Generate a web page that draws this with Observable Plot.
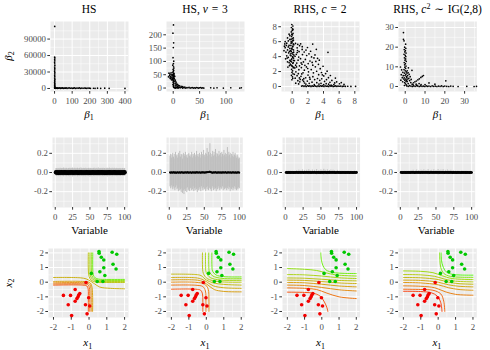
<!DOCTYPE html>
<html><head><meta charset="utf-8">
<script src="https://cdn.jsdelivr.net/npm/d3@7"></script>
<script src="https://cdn.jsdelivr.net/npm/@observablehq/plot@0.6"></script>
<style>
body{margin:0;background:#fff;}
#root{position:relative;width:490px;height:350px;overflow:hidden;background:#fff;font-family:"Liberation Serif","DejaVu Serif","Noto Serif",serif;}
#root svg{position:absolute;}
#root svg text{font-family:"Liberation Serif","DejaVu Serif","Noto Serif",serif;}
</style></head><body><div id="root"></div>
<script>
// ---------- Row 1: posterior draws (beta1, beta2) ----------
const hsPoints = [[1,113000],[0.5,57000],[1.5,55500],[0.8,53000],[1.2,50500],[0.3,48000],[1.0,45000],[1.8,42000],[0.6,39000],[1.4,36500],
[0.9,34000],[0.4,31500],[1.6,29000],[1.1,26500],[0.7,24000],[1.3,21500],[0.5,19000],[1.9,17000],[0.8,15000],[1.2,13000],
[0.4,11000],[1.0,9500],[1.5,8000],[0.6,6500],[1.1,5200],[0.9,4000],[1.4,3000],[0.7,2200],[1.0,1500],[1.3,900],[0.8,400],
[2,900],[4,300],[7,1200],[10,500],[13,800],[16,200],[19,1000],[22,400],[26,700],[30,1300],[34,300],[38,900],[42,600],[46,1100],
[51,200],[56,800],[61,500],[66,1000],[71,300],[77,700],[83,1200],[89,400],[95,900],[101,200],[107,600],[113,1000],[120,300],
[127,800],[134,500],[141,1100],[148,200],[155,700],[162,400],[169,900],[176,600],[183,300],[190,800],[197,500],[204,200],
[221,400],[230,300],[244,600],[262,200],[285,500],[310,300],[400,100]];

const nuPoints = [[0.5,237],[-0.5,206],[0.8,170],[0.2,152],[-0.3,114],[1.0,101],[0.4,92],[-0.8,86],[0.6,80],[1.2,75],
[-0.2,70],[0.9,66],[0.0,62],[-0.6,58],[1.4,55],[0.3,52],[-1.0,49],[0.7,46],[1.1,43],[-0.4,40],[0.5,37],[1.5,34],[-0.7,31],
[0.2,28],[0.9,25],[-0.1,22],[1.3,19],[0.6,16],[-0.5,13],[1.0,10],[0.4,7],[0.8,4],
[-8,56],[-6,52],[-4,57],[-3,50],[-7,47],[-5,44],[-2,46],[-9,42],[-4,40],[-6,38],[-2,36],[1,54],[2,49],[3,44],[-1,33],[-3,31],
[1,40],[2,35],[4,30],[3,26],[5,23],[6,19],[4,16],[8,14],[6,12],[10,10],[12,8],[8,7],[15,6],[18,5],[10,4],[22,4],[5,9],[-5,35],[-1,50],[0,45],
[1,3],[2,1],[3,2],[4,0],[5,4],[6,1],[7,2],[8,3],[9,0],[10,1],[12,2],[14,1],[16,3],[18,0],[20,2],[22,1],[24,0],[26,2],[28,1],[30,3],
[32,0],[34,1],[36,2],[38,0],[40,1],[42,0],[44,2],[46,1],[48,0],[50,1],[52,2],[54,0],[56,1],[58,0],[71,1],[77,0],[83,1],[95,0],[109,1],[126,0],[129,1]];

const rhsPoints = [[-0.05,8.3],[0.08,8.1],[-0.1,7.9],[0.05,7.7],[0.0,7.5],[-0.12,7.3],[0.1,7.1],[0.02,6.9],[-0.08,6.7],[0.14,6.5],
[-0.15,6.3],[0.06,6.1],[-0.03,5.9],[0.12,5.7],[-0.17,5.5],[0.04,5.3],[-0.07,5.1],[0.16,4.9],[-0.12,4.7],[0.02,4.5],[0.1,4.3],
[-0.15,4.1],[0.05,3.9],[-0.05,3.7],[0.15,3.5],[-0.1,3.3],[0.08,3.1],[-0.18,2.9],[0.0,2.7],[0.12,2.5],[-0.08,2.3],[0.05,2.1],
[-0.03,1.9],[0.1,1.7],[-0.1,1.5],[0.03,1.3],[0.07,1.1],[-0.04,0.9],
[0.1,7.6],[-0.06,7.0],[0.15,6.2],[-0.14,5.8],[0.08,5.4],[-0.02,5.0],[0.18,4.6],[-0.16,4.4],[0.07,4.0],[-0.11,3.6],[0.12,3.2],
[-0.05,2.8],[0.17,3.8],[-0.2,4.8],[0.0,6.4],[0.2,5.6],[-0.22,3.4],[0.22,4.2],[-0.13,6.0],[0.19,2.6],
[-0.9,5.2],[-0.7,5.8],[-0.5,6.1],[-0.8,4.6],[-0.6,4.9],[-0.4,5.5],[-0.3,6.3],[-0.25,4.2],[-0.5,3.9],[-0.7,4.1],[-1.0,5.4],
[-0.3,3.5],[-0.6,3.3],[-0.45,4.5],[-0.3,5.1],[-0.85,3.7],[-0.35,2.8],[-0.55,2.6],[-0.25,3.0],[-1.05,4.8],[-0.9,6.0],[-0.6,6.5],
[-0.4,7.0],[-0.3,6.8],[-0.75,5.5],[-0.5,5.3],[-0.65,3.8],[-0.4,3.2],[-0.95,5.7],[-0.35,4.7],
[0.42,5.76],[0.63,5.18],[0.94,5.47],[1.08,5.71],[1.27,4.96],[1.53,4.62],[1.76,4.88],[2.14,4.37],[2.47,3.96],[2.62,5.68],[2.91,4.23],
[3.08,4.97],[3.24,3.77],[4.57,4.58],[0.52,4.31],[0.83,3.94],[1.06,3.72],[1.43,3.29],[1.68,3.63],[2.04,3.07],[2.27,3.41],[2.63,2.86],
[2.96,2.63],[3.35,2.97],[3.58,2.38],[3.94,2.71],[0.58,3.14],[0.93,2.77],[1.17,2.53],[1.55,2.18],[1.82,2.62],[2.08,1.96],[2.43,2.27],
[2.71,1.83],[3.12,2.04],[3.38,1.58],[3.74,1.87],[4.03,1.42],[4.27,1.73],[4.63,1.18],[0.47,1.97],[0.78,1.72],[1.12,1.36],[1.38,1.84],
[1.72,1.17],[2.02,1.53],[2.28,0.98],[2.64,1.32],[2.87,0.92],[3.23,1.07],[3.52,0.83],[3.77,1.04],[4.13,0.68],[4.38,0.93],[4.82,0.57],
[5.07,0.81],[5.43,0.48],[5.68,0.63],[6.04,0.37],[6.27,0.52],[0.38,1.12],[0.72,0.78],[0.97,0.62],[1.33,0.88],[1.58,0.47],[1.93,0.73],
[2.17,0.42],[2.53,0.58],[2.82,0.27],[3.14,0.51],[3.42,0.32],[3.68,0.43],[4.02,0.26],[4.34,0.38],[4.66,0.31],[4.97,0.18],[5.32,0.27],
[0.28,3.47],[0.33,2.48],[0.27,1.63],[3.46,3.52],[2.78,3.83],[1.31,4.27],[0.68,4.82],[5.52,1.13],[4.88,1.47],[6.62,0.28],
[0.45,0.45],[0.62,1.45],[0.85,2.25],[1.02,0.95],[0.55,2.62],[0.75,3.52],[1.22,1.68],[0.92,1.15],[1.48,1.05],[1.25,2.98],
[0.36,4.05],[0.64,4.55],[1.85,4.15],[2.35,4.72],[1.98,2.41],[1.62,2.84],[0.44,2.86],[0.88,4.68],[1.14,3.16],[2.55,3.22],
[1.28,5.33],[0.71,5.64],[1.95,5.22],[3.02,3.36],[2.22,1.22],[1.46,0.68],[0.82,0.34],[1.75,0.32],[3.85,1.56],[4.46,2.05],
[1.2,0.05],[1.35,0.1],[1.5,0.02],[1.65,0.08],[1.8,0.0],[1.95,0.12],[2.1,0.04],[2.25,0.09],[2.4,0.01],[2.55,0.07],[2.7,0.03],
[2.85,0.11],[3.0,0.05],[3.15,0.0],[3.3,0.08],[3.45,0.02],[3.6,0.1],[3.75,0.04],[3.9,0.07],[4.05,0.0],[4.2,0.09],[4.35,0.03],
[4.5,0.06],[4.65,0.01],[4.8,0.1],[4.95,0.04],[5.1,0.07],[5.25,0.0],[5.4,0.05],[5.55,0.08],[5.7,0.02],[5.85,0.06],[6.0,0.03],
[6.2,0.05],[6.4,0.01],[6.6,0.04],[6.8,0.02],[7.1,0.03],[7.5,0.01],[8.1,0.02]];

const igPoints = [[-0.9,27.4],[-0.9,24.0],[-0.6,23.2],[0.2,21.5],[-0.3,20.0],[0.3,19.4],[-0.5,18.8],[0.1,18.2],[-0.2,17.6],[0.4,17.0],
[-0.6,16.4],[0.0,15.8],[0.3,15.2],[-0.4,14.6],[0.2,14.0],[-0.1,13.4],[0.5,12.8],[-0.5,12.2],[0.1,11.6],[-0.3,11.0],[0.4,10.4],
[-0.2,9.8],[0.2,9.2],[-0.6,8.6],[0.0,8.0],[0.5,7.4],[-0.4,6.8],[0.3,6.2],[-0.1,5.6],[0.6,5.0],[-0.5,4.4],[0.2,3.8],[-0.2,3.2],
[0.4,2.6],[-0.3,2.0],[0.1,1.4],[0.5,0.8],[-0.4,0.5],
[-2.4,9.9],[-1.8,8.5],[-1.2,7.2],[-2.0,6.0],[-1.0,5.5],[-1.5,4.5],[-0.8,3.8],[-2.2,3.2],[1.0,8.0],[1.5,7.0],[2.0,6.2],[1.2,5.5],
[2.5,5.0],[1.8,4.2],[3.0,3.6],[2.2,3.0],[1.0,2.5],[3.4,8.2],[2.8,2.0],[1.5,1.5],[0.8,4.5],[0.9,6.8],[1.6,9.5],[-1.3,2.4],[0.7,3.2],[1.3,3.8],
[4.2,1.9],[4.9,2.4],[5.6,2.8],[6.4,3.4],[7.1,3.9],[7.9,4.6],[8.6,5.1],[9.2,5.6],
[5.5,1.2],[7.0,1.5],[10.0,1.0],[12.0,1.8],[15.0,1.2],[20.5,2.9],[4.0,0.8],[6.0,0.6],[8.0,0.9],[3.5,1.2],
[0.8,0.3],[1.5,0.1],[2.2,0.4],[2.9,0.2],[3.6,0.0],[4.3,0.3],[5.0,0.1],[5.7,0.4],[6.4,0.2],[7.1,0.0],[7.8,0.3],[8.5,0.1],[9.2,0.2],
[9.9,0.0],[10.6,0.3],[11.3,0.1],[12.0,0.2],[12.8,0.0],[13.6,0.3],[14.4,0.1],[15.2,0.2],[16.0,0.0],[16.8,0.2],[17.6,0.1],[18.4,0.3],
[19.2,0.0],[20.0,0.2],[21.0,0.1],[22.0,0.0],[23.0,0.2],[24.2,0.1],[26.7,0.0],[31.1,0.1],[34.8,0.0],[36.0,0.1]];

// ---------- Row 2: per-variable intervals ----------
const variables = d3.range(1, 101);
const hsMid = [0.002,-0.001,0.001,0.000,-0.002,0.001,0.000,-0.001,0.002,0.000,-0.001,0.001,0.000,0.002,-0.001,0.000,0.001,-0.002,0.000,0.001,
0.000,-0.001,0.002,0.001,0.000,-0.001,0.000,0.001,-0.001,0.002,0.001,0.000,-0.002,0.000,0.001,-0.001,0.002,0.000,-0.001,0.001,
0.000,0.001,-0.001,0.000,0.002,-0.001,0.000,0.001,0.000,-0.002,0.001,0.000,-0.001,0.002,0.000,0.001,-0.001,0.000,0.001,0.000,
-0.001,0.002,0.000,-0.001,0.001,0.000,0.002,-0.001,0.000,0.001,0.000,-0.002,0.001,0.000,-0.001,0.001,0.000,0.002,-0.001,0.000,
0.001,0.000,-0.001,0.001,0.002,0.000,-0.001,0.000,0.001,-0.001,0.000,0.001,0.000,-0.002,0.001,0.000,0.001,-0.001,0.000,0.002];
const hsHalf = [0.038,0.041,0.035,0.043,0.039,0.036,0.044,0.040,0.037,0.042,0.039,0.045,0.036,0.041,0.038,0.043,0.040,0.035,0.042,0.039,
0.044,0.037,0.041,0.038,0.046,0.040,0.036,0.043,0.039,0.041,0.037,0.044,0.040,0.038,0.042,0.036,0.045,0.039,0.041,0.037,
0.043,0.040,0.038,0.044,0.036,0.041,0.039,0.042,0.037,0.045,0.040,0.038,0.043,0.036,0.041,0.044,0.039,0.037,0.042,0.040,
0.038,0.045,0.036,0.041,0.039,0.043,0.037,0.040,0.044,0.038,0.041,0.036,0.042,0.039,0.045,0.037,0.040,0.043,0.038,0.041,
0.036,0.044,0.039,0.037,0.042,0.040,0.038,0.043,0.036,0.041,0.039,0.037,0.042,0.040,0.038,0.036,0.041,0.039,0.037,0.040];

const nuHi = [0.17,0.19,0.15,0.18,0.20,0.16,0.14,0.19,0.21,0.17,0.18,0.15,0.20,0.17,0.22,0.16,0.19,0.18,0.14,0.20,
0.19,0.17,0.21,0.16,0.18,0.15,0.19,0.20,0.17,0.16,0.18,0.21,0.15,0.19,0.17,0.20,0.16,0.18,0.22,0.17,
0.19,0.16,0.20,0.18,0.15,0.21,0.19,0.17,0.23,0.18,0.16,0.20,0.19,0.25,0.17,0.21,0.18,0.30,0.20,0.16,
0.19,0.22,0.17,0.21,0.18,0.24,0.16,0.20,0.19,0.17,0.22,0.18,0.20,0.16,0.21,0.19,0.17,0.23,0.18,0.20,
0.16,0.19,0.26,0.17,0.21,0.18,0.20,0.15,0.19,0.17,0.21,0.16,0.18,0.20,0.17,0.15,0.18,0.16,0.14,0.15];
const nuLo = [-0.15,-0.17,-0.14,-0.16,-0.18,-0.15,-0.17,-0.19,-0.16,-0.14,-0.18,-0.17,-0.20,-0.16,-0.19,-0.18,-0.21,-0.17,-0.22,-0.19,
-0.23,-0.18,-0.20,-0.17,-0.21,-0.16,-0.19,-0.18,-0.20,-0.17,-0.16,-0.19,-0.18,-0.15,-0.20,-0.17,-0.19,-0.16,-0.18,-0.21,
-0.17,-0.19,-0.16,-0.18,-0.20,-0.15,-0.17,-0.19,-0.16,-0.18,-0.17,-0.20,-0.16,-0.18,-0.15,-0.19,-0.17,-0.16,-0.18,-0.20,
-0.17,-0.15,-0.19,-0.16,-0.18,-0.17,-0.20,-0.16,-0.18,-0.15,-0.17,-0.19,-0.16,-0.18,-0.17,-0.15,-0.19,-0.16,-0.18,-0.17,
-0.16,-0.19,-0.17,-0.15,-0.18,-0.16,-0.20,-0.17,-0.18,-0.16,-0.19,-0.17,-0.15,-0.18,-0.16,-0.19,-0.17,-0.18,-0.16,-0.17];
const nuMid = [0.001,-0.002,0.002,0.000,-0.001,0.003,-0.002,0.001,0.000,-0.003,0.002,0.001,-0.001,0.000,0.002,-0.002,0.001,0.003,-0.001,0.000,
-0.002,0.001,0.002,-0.001,0.000,0.003,-0.002,0.001,-0.001,0.002,0.000,-0.003,0.001,0.002,-0.001,0.000,0.001,-0.002,0.003,0.000,
0.001,-0.001,0.002,0.000,-0.002,0.001,0.003,-0.001,0.002,0.000,-0.001,0.002,0.001,0.004,0.002,0.003,0.006,0.010,0.004,0.001,
0.000,-0.002,0.001,0.002,-0.001,0.003,0.000,-0.002,0.001,0.000,0.002,-0.001,0.000,0.001,-0.002,0.002,0.000,0.001,-0.001,0.003,
0.000,-0.002,0.001,0.000,0.002,-0.001,0.001,0.000,-0.002,0.001,0.002,0.000,-0.001,0.001,0.000,-0.002,0.001,0.000,0.002,-0.001];

const rhsHalf = [0.011,0.012,0.010,0.013,0.012,0.011,0.014,0.012,0.010,0.013,0.012,0.011,0.013,0.010,0.012,0.018,0.012,0.011,0.022,0.013,
0.012,0.016,0.011,0.024,0.012,0.013,0.019,0.011,0.012,0.021,0.013,0.011,0.026,0.012,0.017,0.011,0.013,0.023,0.012,0.011,
0.020,0.012,0.013,0.028,0.011,0.012,0.018,0.013,0.011,0.025,0.012,0.014,0.011,0.030,0.012,0.021,0.013,0.011,0.026,0.012,
0.013,0.019,0.011,0.024,0.012,0.013,0.022,0.011,0.017,0.012,0.013,0.011,0.020,0.012,0.011,0.013,0.012,0.010,0.013,0.011,
0.012,0.010,0.013,0.011,0.012,0.010,0.013,0.011,0.012,0.010,0.011,0.013,0.012,0.010,0.011,0.012,0.013,0.011,0.010,0.012];
const rhsMid = [0.000,0.001,-0.001,0.000,0.001,0.000,-0.001,0.001,0.000,0.000,0.001,-0.001,0.000,0.001,0.000,0.002,0.000,-0.001,0.002,0.000,
0.001,0.001,0.000,0.003,0.000,-0.001,0.002,0.000,0.001,0.002,0.000,0.001,0.003,0.000,0.001,-0.001,0.000,0.002,0.000,0.001,
0.002,0.000,-0.001,0.003,0.000,0.001,0.001,0.000,-0.001,0.002,0.000,0.001,0.000,0.003,0.001,0.002,0.000,-0.001,0.002,0.000,
0.001,0.001,0.000,0.002,0.000,0.001,0.002,0.000,0.001,0.000,-0.001,0.000,0.002,0.001,0.000,0.000,0.001,-0.001,0.000,0.001,
0.000,0.001,0.000,-0.001,0.001,0.000,0.000,0.001,0.000,-0.001,0.001,0.000,0.000,0.001,-0.001,0.000,0.001,0.000,0.000,0.001];

const igHalf = [0.012,0.011,0.013,0.010,0.012,0.013,0.011,0.012,0.014,0.010,0.012,0.013,0.011,0.012,0.017,0.011,0.013,0.021,0.012,0.011,
0.015,0.012,0.023,0.011,0.013,0.018,0.012,0.011,0.022,0.012,0.016,0.011,0.024,0.013,0.012,0.019,0.011,0.012,0.027,0.013,
0.011,0.018,0.012,0.021,0.011,0.013,0.025,0.012,0.011,0.019,0.013,0.012,0.028,0.011,0.016,0.012,0.023,0.011,0.013,0.026,
0.012,0.011,0.020,0.013,0.012,0.024,0.011,0.018,0.012,0.013,0.021,0.011,0.012,0.017,0.013,0.011,0.012,0.014,0.011,0.012,
0.013,0.011,0.012,0.010,0.013,0.012,0.011,0.013,0.010,0.012,0.011,0.013,0.012,0.011,0.010,0.012,0.011,0.013,0.012,0.011];
const igMid = [0.001,0.000,-0.001,0.001,0.000,0.000,0.001,-0.001,0.000,0.001,0.000,0.001,0.000,-0.001,0.002,0.000,0.001,0.002,0.000,-0.001,
0.001,0.000,0.003,0.000,0.001,0.002,0.000,-0.001,0.002,0.001,0.001,0.000,0.003,0.000,0.001,0.002,0.000,0.001,0.003,0.000,
-0.001,0.002,0.000,0.002,0.000,0.001,0.003,0.000,0.001,0.002,0.000,0.001,0.003,0.000,0.001,0.000,0.002,0.000,0.001,0.003,
0.000,-0.001,0.002,0.001,0.000,0.002,0.000,0.001,0.000,0.001,0.002,0.000,-0.001,0.001,0.000,0.000,0.001,0.000,-0.001,0.001,
0.000,0.001,0.000,0.000,-0.001,0.001,0.000,0.001,0.000,0.000,0.001,-0.001,0.000,0.001,0.000,0.000,-0.001,0.001,0.000,0.000];

// ---------- Row 3: data points and probability contours ----------
const greenPoints = [[0.56,2.09],[0.57,1.98],[1.30,2.04],[1.56,1.91],[0.69,1.70],[0.83,1.52],[1.35,1.22],[1.52,0.90],[0.83,0.99],
[0.61,0.71],[0.89,0.46],[0.13,0.60],[0.46,0.05],[0.78,0.05]];
const redPoints = [[-0.17,-0.02],[-0.78,-0.50],[-1.44,-0.90],[-1.04,-0.90],[-0.52,-0.78],[-0.58,-0.88],[-0.62,-1.0],[-0.68,-1.12],
[-0.78,-1.30],[-0.02,-1.06],[-1.17,-1.54],[-0.20,-1.54],[0.04,-1.63],[-0.98,-2.28],[-0.11,-2.16]];

const hsContours = [
 {level:0.1, pts:[[-2,-0.2],[-0.35,-0.2],[-0.12,-0.26],[-0.05,-0.45],[-0.04,-0.9],[-0.04,-2]]},
 {level:0.2, pts:[[-2,-0.12],[-0.3,-0.12],[-0.05,-0.17],[0.02,-0.38],[0.04,-0.9],[0.04,-2]]},
 {level:0.3, pts:[[-2,-0.04],[-0.25,-0.04],[0.0,-0.09],[0.09,-0.3],[0.12,-0.9],[0.12,-2]]},
 {level:0.4, pts:[[-2,0.05],[-0.2,0.04],[0.05,-0.03],[0.15,-0.25],[0.2,-0.9],[0.2,-2]]},
 {level:0.5, pts:[[-2,0.32],[-0.5,0.3],[-0.15,0.22],[0.1,0.06],[0.3,-0.1],[0.6,-0.33],[1.2,-0.42],[2,-0.45]]},
 {level:0.6, pts:[[-0.04,2],[-0.04,0.9],[0.0,0.4],[0.12,0.14],[0.4,0.0],[1.0,-0.02],[2,-0.02]]},
 {level:0.7, pts:[[0.05,2],[0.05,0.9],[0.08,0.42],[0.2,0.2],[0.45,0.07],[1.0,0.05],[2,0.05]]},
 {level:0.8, pts:[[0.13,2],[0.13,0.9],[0.16,0.45],[0.27,0.25],[0.5,0.14],[1.0,0.12],[2,0.12]]},
 {level:0.9, pts:[[0.21,2],[0.21,0.9],[0.24,0.5],[0.34,0.3],[0.55,0.21],[1.0,0.19],[2,0.19]]}];
const nuContours = [
 {level:0.1, pts:[[-2,-0.48],[-0.6,-0.48],[-0.32,-0.55],[-0.22,-0.8],[-0.2,-1.3],[-0.2,-2]]},
 {level:0.2, pts:[[-2,-0.2],[-0.6,-0.21],[-0.2,-0.3],[-0.05,-0.6],[-0.02,-1.3],[-0.02,-2]]},
 {level:0.3, pts:[[-2,0.0],[-0.6,-0.01],[-0.12,-0.12],[0.1,-0.45],[0.15,-1.3],[0.15,-2]]},
 {level:0.4, pts:[[-2,0.16],[-0.6,0.15],[-0.25,0.06],[0.1,-0.2],[0.45,-0.5],[1.0,-0.63],[2,-0.66]]},
 {level:0.47, pts:[[-2,0.32],[-0.6,0.3],[-0.25,0.2],[0.05,0.0],[0.4,-0.25],[1.0,-0.38],[2,-0.42]]},
 {level:0.55, pts:[[-2,0.55],[-0.6,0.52],[-0.3,0.45],[0.0,0.15],[0.4,-0.05],[1.0,-0.15],[2,-0.2]]},
 {level:0.63, pts:[[-0.22,2],[-0.22,1.2],[-0.17,0.6],[0.05,0.25],[0.7,0.04],[2,0.0]]},
 {level:0.72, pts:[[-0.04,2],[-0.04,1.2],[0.0,0.65],[0.22,0.32],[0.8,0.15],[2,0.13]]},
 {level:0.81, pts:[[0.14,2],[0.14,1.2],[0.18,0.7],[0.38,0.42],[0.9,0.26],[2,0.24]]},
 {level:0.9, pts:[[0.32,2],[0.32,1.2],[0.36,0.75],[0.55,0.5],[1.0,0.38],[2,0.36]]}];
const rhsContours = [
 {level:0.1, pts:[[-2,-0.68],[-1,-0.7],[-0.5,-0.75],[-0.1,-0.95],[0.15,-1.35],[0.3,-1.75],[0.35,-2]]},
 {level:0.2, pts:[[-2,-0.39],[-1,-0.42],[-0.3,-0.5],[0.3,-0.75],[1,-1.0],[2,-1.12]]},
 {level:0.3, pts:[[-2,-0.2],[-1,-0.23],[0,-0.36],[1,-0.52],[2,-0.6]]},
 {level:0.4, pts:[[-2,-0.02],[-1,-0.04],[0,-0.14],[1,-0.26],[2,-0.32]]},
 {level:0.5, pts:[[-2,0.14],[-1,0.12],[0,0.04],[1,-0.05],[2,-0.09]]},
 {level:0.6, pts:[[-2,0.29],[-1,0.27],[0,0.2],[1,0.12],[2,0.09]]},
 {level:0.7, pts:[[-2,0.52],[-1,0.5],[0,0.42],[1,0.3],[2,0.25]]},
 {level:0.8, pts:[[-2,0.93],[-1,0.88],[-0.3,0.8],[0.2,0.65],[0.8,0.5],[2,0.42]]},
 {level:0.9, pts:[[-0.06,2],[-0.02,1.5],[0.06,1.15],[0.22,0.86],[0.45,0.72],[0.8,0.64],[1.3,0.6],[2,0.59]]}];
const igContours = [
 {level:0.05, pts:[[-2,-0.62],[-1,-0.64],[-0.4,-0.72],[-0.05,-0.95],[0.15,-1.4],[0.22,-2]]},
 {level:0.15, pts:[[-2,-0.48],[-1,-0.5],[-0.3,-0.55],[0.15,-0.8],[0.32,-1.3],[0.38,-2]]},
 {level:0.25, pts:[[-2,-0.25],[-1,-0.28],[-0.2,-0.38],[0.4,-0.65],[1.0,-0.83],[2,-0.89]]},
 {level:0.35, pts:[[-2,-0.02],[-1,-0.05],[0,-0.18],[0.6,-0.38],[1.2,-0.5],[2,-0.55]]},
 {level:0.45, pts:[[-2,0.14],[-1,0.12],[0,0.0],[0.6,-0.18],[1.2,-0.28],[2,-0.32]]},
 {level:0.55, pts:[[-2,0.32],[-1,0.3],[0,0.18],[0.6,0.0],[1.2,-0.1],[2,-0.14]]},
 {level:0.65, pts:[[-2,0.52],[-1,0.5],[-0.2,0.4],[0.4,0.2],[1,0.07],[2,0.02]]},
 {level:0.75, pts:[[-2,0.77],[-1,0.74],[-0.3,0.65],[0.2,0.45],[0.8,0.25],[2,0.18]]},
 {level:0.85, pts:[[0.08,2],[0.1,1.5],[0.15,1.0],[0.32,0.6],[0.7,0.4],[1.3,0.34],[2,0.33]]},
 {level:0.95, pts:[[0.17,2],[0.19,1.5],[0.27,1.1],[0.46,0.71],[0.8,0.54],[1.3,0.49],[2,0.48]]}];

// ---------- helpers ----------
const root = document.getElementById("root");
const FONT = '"Liberation Serif", "DejaVu Serif", "Noto Serif", serif';
const ML = 36, MR = 3, MT = 6, MB = 20;
const str = d => String(d);

function panel({left, top, w, h, xDomain, yDomain, xTicks, yTicks, xMinor, yMinor, xFmt = str, yFmt = str, marks, color}) {
  const chart = Plot.plot({
    width: ML + w + MR, height: MT + h + MB,
    marginLeft: ML, marginRight: MR, marginTop: MT, marginBottom: MB,
    style: {background: "transparent", fontFamily: FONT, overflow: "visible"},
    x: {domain: xDomain}, y: {domain: yDomain},
    color: color || undefined,
    marks: [
      Plot.frame({fill: "#EBEBEB", stroke: "none"}),
      Plot.gridX(xMinor, {stroke: "white", strokeOpacity: 1, strokeWidth: 0.5}),
      Plot.gridY(yMinor, {stroke: "white", strokeOpacity: 1, strokeWidth: 0.5}),
      Plot.gridX(xTicks, {stroke: "white", strokeOpacity: 1, strokeWidth: 1}),
      Plot.gridY(yTicks, {stroke: "white", strokeOpacity: 1, strokeWidth: 1}),
      ...marks,
      Plot.axisX(xTicks, {tickSize: 2.7, tickPadding: 3.5, tickFormat: xFmt, fontSize: 8.8, stroke: "#333333", fill: "#4D4D4D", label: null}),
      Plot.axisY(yTicks, {tickSize: 2.7, tickPadding: 1.8, tickFormat: yFmt, fontSize: 8.8, stroke: "#333333", fill: "#4D4D4D", label: null})
    ]
  });
  chart.style.left = (left - ML) + "px";
  chart.style.top = (top - MT) + "px";
  root.appendChild(chart);
}

const px = d => d[0], py = d => d[1];
const scatter = pts => [Plot.dot(pts, {x: px, y: py, r: 0.85, fill: "black"})];

// ---------- Row 1 ----------
const R1T = 20.7, R1H = 70;
panel({left: 50, top: R1T, w: 78, h: R1H, xDomain: [-23, 420], yDomain: [-5500, 122000],
  xTicks: [0,100,200,300,400], xMinor: [50,150,250,350], yTicks: [0,30000,60000,90000], yMinor: [15000,45000,75000,105000],
  marks: scatter(hsPoints)});
panel({left: 166, top: R1T, w: 78, h: R1H, xDomain: [-12.7, 135], yDomain: [-13, 250],
  xTicks: [0,50,100], xMinor: [25,75,125], yTicks: [0,50,100,150,200], yMinor: [25,75,125,175,225],
  marks: scatter(nuPoints)});
panel({left: 281, top: R1T, w: 78, h: R1H, xDomain: [-1.37, 8.6], yDomain: [-0.67, 8.7],
  xTicks: [0,2,4,6,8], xMinor: [-1,1,3,5,7], yTicks: [0,2,4,6,8], yMinor: [1,3,5,7],
  marks: scatter(rhsPoints)});
panel({left: 398.3, top: R1T, w: 78.4, h: R1H, xDomain: [-3.4, 36.2], yDomain: [-2.54, 33.05],
  xTicks: [0,10,20,30], xMinor: [5,15,25,35], yTicks: [0,10,20,30], yMinor: [5,15,25],
  marks: scatter(igPoints)});

// ---------- Row 2 ----------
const R2T = 136.7, R2H = 70;
const r2 = {xDomain: [-3.95, 104.95], yDomain: [-0.365, 0.365], xTicks: [0,25,50,75,100], xMinor: [12.5,37.5,62.5,87.5],
  yTicks: [-0.2,0,0.2], yMinor: [-0.3,-0.1,0.1,0.3], yFmt: d => d.toFixed(1)};
const GRAY = "#BEBEBE";
function centred(mid, half, r) {
  return [
    Plot.ruleX(variables, {x: d => d, y1: (d, i) => mid[i] - half[i], y2: (d, i) => mid[i] + half[i], stroke: GRAY, strokeWidth: 1}),
    Plot.dot(variables, {x: d => d, y: (d, i) => mid[i], r, fill: "black"})
  ];
}
panel({...r2, left: 51.7, top: R2T, w: 75.6, h: R2H, marks: centred(hsMid, hsHalf, 2.2)});
panel({...r2, left: 166, top: R2T, w: 76.3, h: R2H, marks: [
  Plot.ruleX(variables, {x: d => d, y1: (d, i) => nuLo[i], y2: (d, i) => nuHi[i], stroke: GRAY, strokeWidth: 1}),
  Plot.line(variables, {x: d => d, y: (d, i) => nuMid[i], stroke: "black", strokeWidth: 1.6}),
  Plot.dot(variables, {x: d => d, y: (d, i) => nuMid[i], r: 0.9, fill: "black"})
]});
panel({...r2, left: 281.7, top: R2T, w: 77.6, h: R2H, marks: centred(rhsMid, rhsHalf, 1.3)});
panel({...r2, left: 397.3, top: R2T, w: 77.7, h: R2H, marks: centred(igMid, igHalf, 1.3)});

// ---------- Row 3 ----------
const R3T = 248.3, R3H = 69;
const r3 = {xDomain: [-2.28, 2.22], yDomain: [-2.41, 2.3], xTicks: [-2,-1,0,1,2], xMinor: [-1.5,-0.5,0.5,1.5],
  yTicks: [-2,-1,0,1,2], yMinor: [-1.5,-0.5,0.5,1.5],
  color: {type: "linear", domain: [0, 1], range: ["#FF0000", "#00FF00"], interpolate: "lab"}};
function boundary(lines) {
  const rows = lines.flatMap((l, id) => l.pts.map(([x, y]) => ({id, level: l.level, x, y})));
  return [
    Plot.line(rows, {x: "x", y: "y", z: "id", stroke: "level", strokeWidth: 0.9, curve: "catmull-rom"}),
    Plot.dot(redPoints, {x: px, y: py, r: 1.8, fill: "#F20000"}),
    Plot.dot(greenPoints, {x: px, y: py, r: 1.8, fill: "#00C800"})
  ];
}
panel({...r3, left: 47.7, top: R3T, w: 80, h: R3H, marks: boundary(hsContours)});
panel({...r3, left: 165.7, top: R3T, w: 78.6, h: R3H, marks: boundary(nuContours)});
panel({...r3, left: 281.7, top: R3T, w: 77.6, h: R3H, marks: boundary(rhsContours)});
panel({...r3, left: 397.7, top: R3T, w: 78.3, h: R3H, marks: boundary(igContours)});

// ---------- titles and axis titles ----------
const SP = "\u2004";
const titles = [
  {cx: 89, html: 'HS'},
  {cx: 205, html: `HS, <tspan font-style="italic">ν</tspan>${SP}=${SP}3`},
  {cx: 320, html: `RHS, <tspan font-style="italic">c</tspan>${SP}=${SP}2`},
  {cx: 437.5, html: `RHS, <tspan font-style="italic">c</tspan><tspan dy="-4" font-size="8">2</tspan><tspan dy="4">${SP}∼${SP}IG(2,8)</tspan>`}
];
const col1 = [89, 205, 320, 437.5], col2 = [89.5, 204.2, 320.5, 436.2], col3 = [87.7, 205, 320.5, 436.9];
let svg = `<svg width="490" height="350" style="left:0;top:0;pointer-events:none" fill="black">`;
for (const t of titles) svg += `<text x="${t.cx}" y="13" text-anchor="middle" font-size="11.5">${t.html}</text>`;
for (const cx of col1) svg += `<text x="${cx}" y="117.5" text-anchor="middle" font-size="11"><tspan font-style="italic">β</tspan><tspan dy="2.5" font-size="8">1</tspan></text>`;
for (const cx of col2) svg += `<text x="${cx}" y="234" text-anchor="middle" font-size="11">Variable</text>`;
for (const cx of col3) svg += `<text x="${cx}" y="346" text-anchor="middle" font-size="11"><tspan font-style="italic">x</tspan><tspan dy="2.5" font-size="8">1</tspan></text>`;
svg += `<text transform="translate(11.5,56) rotate(-90)" text-anchor="middle" font-size="11"><tspan font-style="italic">β</tspan><tspan dy="2.5" font-size="8">2</tspan></text>`;
svg += `<text transform="translate(11.5,283) rotate(-90)" text-anchor="middle" font-size="11"><tspan font-style="italic">x</tspan><tspan dy="2.5" font-size="8">2</tspan></text>`;
svg += `</svg>`;
root.insertAdjacentHTML("beforeend", svg);
</script></body></html>
